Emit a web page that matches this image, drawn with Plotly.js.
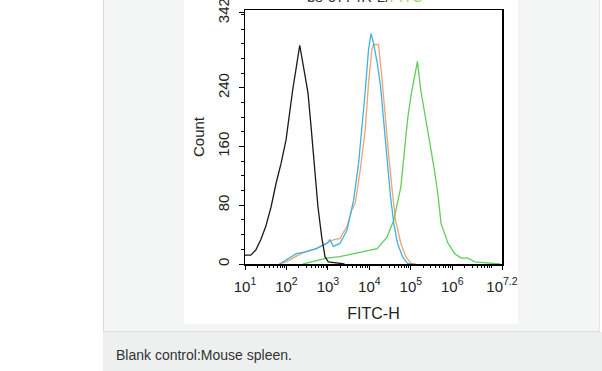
<!DOCTYPE html>
<html>
<head>
<meta charset="utf-8">
<script src="https://cdn.plot.ly/plotly-3.0.1.min.js"></script>
<style>
  html, body { margin:0; padding:0; background:#ffffff; width:602px; height:371px; overflow:hidden; }
  .bg { position:absolute; }
  #chart { position:absolute; left:0; top:0; width:602px; height:371px; }
</style>
</head>
<body>
<div class="bg" style="left:103px;top:0;width:495px;height:331px;background:#f4f6f5;border-left:1px solid #d9dbda;border-right:1px solid #e4e6e5;border-bottom:1px solid #dcdedd;"></div>
<div class="bg" style="left:103px;top:332px;width:499px;height:39px;background:#eef0ef;"></div>
<div class="bg" style="left:184px;top:0;width:334px;height:324px;background:#ffffff;"></div>
<div id="chart"></div>
<script>
// Data: x positions in log10(FITC-H) decades, y = Count
const blackLog   = [1.00,1.14,1.26,1.38,1.50,1.63,1.75,1.87,1.99,2.07,2.15,2.24,2.32,2.41,2.52,2.60,2.68,2.76,2.85,2.93,3.01,3.21,3.40];
const blackCount = [12,  12,  19,  33,  51,  78,  110, 137, 169, 205, 237, 269, 298, 269, 233, 183, 128, 78,  37,  10,  3,   1,   0];

const blueLog   = [1.83,2.24,2.48,2.72,2.97,3.05,3.13,3.29,3.46,3.62,3.74,3.82,3.90,3.98,4.04,4.10,4.19,4.27,4.35,4.43,4.51,4.59,4.68,4.80,4.92,5.05];
const blueCount = [0,   14,  17,  21,  28,  33,  24,  28,  46,  87,  137, 183, 235, 292, 314, 301, 274, 242, 192, 137, 92,  55,  28,  10,  1,   0];

const orangeLog   = [1.83,1.99,2.28,2.48,2.72,2.97,3.13,3.29,3.46,3.58,3.66,3.78,3.90,3.98,4.06,4.10,4.22,4.30,4.38,4.47,4.55,4.63,4.76,4.88,5.00,5.12];
const orangeCount = [0,   3,   12,  17,  21,  28,  33,  35,  51,  74,  83,  128, 183, 246, 292, 299, 299, 255, 201, 146, 101, 60,  28,  10,  1,   0];

const greenLog   = [2.40,2.64,2.97,3.29,3.62,3.94,4.19,4.43,4.59,4.76,4.84,4.92,5.00,5.08,5.16,5.24,5.37,5.45,5.57,5.66,5.73,5.90,6.06,6.22,6.38,6.54,6.95,7.15];
const greenCount = [0,   3,   8,   10,  14,  17,  21,  37,  60,  105, 151, 196, 228, 255, 276, 237, 196, 169, 128, 92,  55,  28,  14,  8,   8,   3,   1,   0];

const xTickDecades = [1, 2, 3, 4, 5, 6, 7.2];
const xTickText = ['10<sup>1</sup>','10<sup>2</sup>','10<sup>3</sup>','10<sup>4</sup>','10<sup>5</sup>','10<sup>6</sup>','10<sup>7.2</sup>'];
const yTickVals = [0, 80, 160, 240, 342];
const yTickText = ['0', '80', '160', '240', '342'];

const toLin = a => a.map(v => Math.pow(10, v));

function series(xs, ys, color) {
  return { x: toLin(xs), y: ys, type: 'scatter', mode: 'lines',
           line: { color: color, width: 1.3 }, hoverinfo: 'skip', showlegend: false };
}

const minorVals = [];
for (let d = 1; d < 8; d++) {
  for (let k = 2; k <= 9; k++) {
    const v = k * Math.pow(10, d);
    if (Math.log10(v) < 7.2) minorVals.push(v);
  }
}

const traces = [
  series(greenLog, greenCount, '#5fcf5a'),
  series(orangeLog, orangeCount, '#e9a574'),
  series(blueLog, blueCount, '#3fb2e2'),
  series(blackLog, blackCount, '#1a1a1a')
];

const font = { family: '"Liberation Sans", Arial, sans-serif', color: '#222' };

const layout = {
  width: 602, height: 371,
  margin: { l: 245, r: 100, t: 10, b: 107, pad: 0 },
  paper_bgcolor: 'rgba(0,0,0,0)',
  plot_bgcolor: '#ffffff',
  font: font,
  showlegend: false,
  xaxis: {
    type: 'log', range: [1, 7.2], autorange: false,
    tickmode: 'array', tickvals: toLin(xTickDecades), ticktext: xTickText,
    ticks: 'outside', ticklen: 4, tickwidth: 1, tickcolor: '#000',
    ticklabelstandoff: 4, ticklabeloverflow: 'allow',
    showline: true, linecolor: '#000', linewidth: 1.5, mirror: true,
    showgrid: false, zeroline: false,
    tickfont: { family: font.family, size: 15, color: '#222' },
    minor: { tickmode: 'array', tickvals: minorVals, ticks: 'outside', ticklen: 2, tickwidth: 1, tickcolor: '#000', showgrid: false },
    title: { text: 'FITC-H', font: { family: font.family, size: 16, color: '#222' }, standoff: 14 }
  },
  yaxis: {
    range: [0, 346], autorange: false,
    tickmode: 'array', tickvals: yTickVals, ticktext: yTickText,
    tickangle: -90,
    ticks: 'outside', ticklen: 5, tickwidth: 1, tickcolor: '#000',
    ticklabelstandoff: 4, ticklabeloverflow: 'allow',
    showline: true, linecolor: '#000', linewidth: 1.5, mirror: true,
    showgrid: false, zeroline: false,
    tickfont: { family: font.family, size: 15, color: '#222' },
    minor: { dtick: 20, tick0: 0, ticks: 'outside', ticklen: 3, tickwidth: 1, tickcolor: '#000', showgrid: false },
    title: { text: 'Count', font: { family: font.family, size: 15, color: '#222' }, standoff: 6 }
  },
  annotations: [
    { xref: 'paper', yref: 'paper', x: (365 - 245) / 257, y: (264 - 7) / 254,
      xanchor: 'center', yanchor: 'bottom', showarrow: false,
      text: '<span style="color:#333">bs-0774R-2/</span><span style="color:#9bdc5a">FITC</span>',
      font: { family: font.family, size: 15, color: '#333' } },
    { xref: 'paper', yref: 'paper', x: (114 - 245) / 257, y: (264 - 355) / 254,
      xanchor: 'left', yanchor: 'middle', showarrow: false,
      text: 'Blank control:Mouse spleen.',
      font: { family: font.family, size: 14, color: '#333' } }
  ]
};

Plotly.newPlot('chart', traces, layout, { staticPlot: true, displayModeBar: false });
</script>
</body>
</html>
